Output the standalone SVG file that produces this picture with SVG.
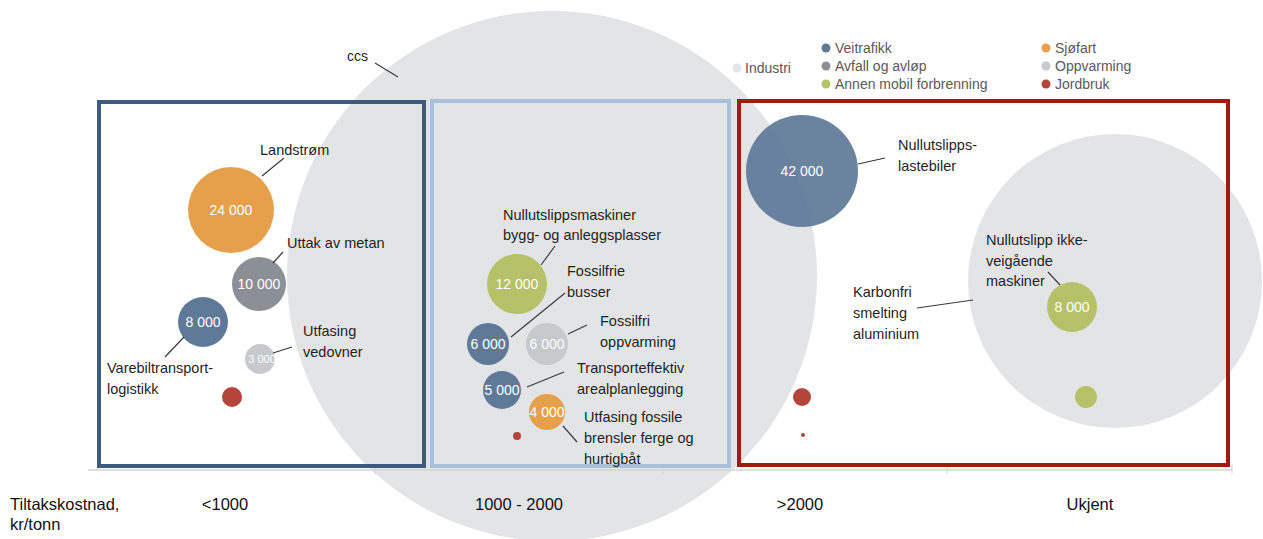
<svg xmlns="http://www.w3.org/2000/svg" width="1263" height="539" viewBox="0 0 1263 539">
<style>
text{font-family:"Liberation Sans",Arial,sans-serif}
.lbl{font-size:14.5px;fill:#1f1f1f}
.val{font-size:14px;fill:#ffffff;text-anchor:middle}
.leg{font-size:14px;fill:#595959}
.ax{font-size:16.5px;fill:#111111}
.axc{font-size:16.5px;fill:#111111;text-anchor:middle}
.ld{stroke:#3a3a3a;stroke-width:1.2;fill:none}
.ind{fill:#e3e4e6}
.vei{fill:#5f7a98}
.avf{fill:#8b9097}
.ann{fill:#b6c26a}
.sjo{fill:#e6a04c}
.opp{fill:#c6c9ce}
.jor{fill:#b4453b}
.box{fill:none;stroke-width:4}
</style>
<rect width="1263" height="539" fill="#ffffff"/>
<g id="ccs">
<circle class="ind" cx="552" cy="276" r="265"/>
<text x="347" y="61" class="lbl" style="font-size:14px">ccs</text>
</g>
<g id="industri-aluminium">
<circle class="ind" cx="1115" cy="281" r="147"/>
<text class="lbl" x="853" y="297">Karbonfri</text>
<text class="lbl" x="853" y="318">smelting</text>
<text class="lbl" x="853" y="339">aluminium</text>
</g>
<g id="axis">
<line x1="88" y1="470" x2="1232" y2="470" stroke="#d4d4d4" stroke-width="1.5"/>
<line x1="375" y1="464" x2="375" y2="474" stroke="#d4d4d4" stroke-width="1"/>
<line x1="663" y1="464" x2="663" y2="474" stroke="#d4d4d4" stroke-width="1"/>
<line x1="947" y1="464" x2="947" y2="474" stroke="#d4d4d4" stroke-width="1"/>
<line x1="1232" y1="464" x2="1232" y2="474" stroke="#d4d4d4" stroke-width="1"/>
<text class="ax" x="10" y="510">Tiltakskostnad,</text>
<text class="ax" x="10" y="530">kr/tonn</text>
<text class="axc" x="225" y="510">&lt;1000</text>
<text class="axc" x="519" y="510">1000 - 2000</text>
<text class="axc" x="800" y="510">&gt;2000</text>
<text class="axc" x="1090" y="510">Ukjent</text>
</g>
<g id="box-lt1000"><rect class="box" x="99" y="102" width="325" height="364" stroke="#3d5b7e"/></g>
<g id="box-1000-2000"><rect class="box" x="432" y="101" width="297" height="365" stroke="#a8c0da"/></g>
<g id="box-gt2000"><rect class="box" x="739" y="101" width="489" height="364" stroke="#9d1b10"/></g>
<g id="legend">
<circle class="ind" cx="737" cy="68" r="4.5"/><text class="leg" x="745" y="73">Industri</text>
<circle class="vei" cx="826" cy="48" r="4.5"/><text class="leg" x="835" y="53">Veitrafikk</text>
<circle class="avf" cx="826" cy="66" r="4.5"/><text class="leg" x="835" y="71">Avfall og avløp</text>
<circle class="ann" cx="826" cy="84" r="4.5"/><text class="leg" x="835" y="89">Annen mobil forbrenning</text>
<circle class="sjo" cx="1046" cy="48" r="4.5"/><text class="leg" x="1055" y="53">Sjøfart</text>
<circle class="opp" cx="1046" cy="66" r="4.5"/><text class="leg" x="1055" y="71">Oppvarming</text>
<circle class="jor" cx="1046" cy="84" r="4.5"/><text class="leg" x="1055" y="89">Jordbruk</text>
</g>
<g id="landstrom">
<circle class="sjo" cx="231" cy="210" r="43"/>
<text class="val" x="231" y="215">24 000</text>
<text class="lbl" x="260" y="155">Landstrøm</text>
</g>
<g id="uttak-metan">
<circle class="avf" cx="259" cy="284" r="27"/>
<text class="val" x="259" y="289">10 000</text>
<text class="lbl" x="287" y="248">Uttak av metan</text>
</g>
<g id="varebil">
<circle class="vei" cx="203" cy="322" r="25"/>
<text class="val" x="203" y="327">8 000</text>
<text class="lbl" x="107" y="373">Varebiltransport-</text>
<text class="lbl" x="107" y="394">logistikk</text>
</g>
<g id="vedovner">
<circle class="opp" cx="260" cy="359" r="15"/>
<text class="val" x="262" y="363" style="font-size:11px">3 000</text>
<text class="lbl" x="303" y="336">Utfasing</text>
<text class="lbl" x="303" y="357">vedovner</text>
</g>
<g id="jordbruk-1"><circle class="jor" cx="232" cy="397" r="10"/></g>
<g id="maskiner-bygg">
<circle class="ann" cx="517" cy="284" r="30"/>
<text class="val" x="517" y="289">12 000</text>
<text class="lbl" x="503" y="220">Nullutslippsmaskiner</text>
<text class="lbl" x="503" y="240">bygg- og anleggsplasser</text>
</g>
<g id="busser">
<circle class="vei" cx="488" cy="344" r="21"/>
<text class="val" x="488" y="349">6 000</text>
<text class="lbl" x="567" y="276">Fossilfrie</text>
<text class="lbl" x="567" y="297">busser</text>
</g>
<g id="oppvarming">
<circle class="opp" cx="547" cy="344" r="21"/>
<text class="val" x="547" y="349">6 000</text>
<text class="lbl" x="600" y="326">Fossilfri</text>
<text class="lbl" x="600" y="347">oppvarming</text>
</g>
<g id="arealplan">
<circle class="vei" cx="502" cy="390" r="19"/>
<text class="val" x="502" y="395">5 000</text>
<text class="lbl" x="577" y="373">Transporteffektiv</text>
<text class="lbl" x="577" y="394">arealplanlegging</text>
</g>
<g id="ferge">
<circle class="sjo" cx="547" cy="412" r="18"/>
<text class="val" x="547" y="417">4 000</text>
<text class="lbl" x="584" y="422">Utfasing fossile</text>
<text class="lbl" x="584" y="443">brensler ferge og</text>
<text class="lbl" x="584" y="464">hurtigbåt</text>
</g>
<g id="jordbruk-2"><circle class="jor" cx="517" cy="436" r="4"/></g>
<g id="lastebiler">
<circle class="vei" cx="802" cy="171" r="56" fill-opacity="0.93"/>
<text class="val" x="802" y="176">42 000</text>
<text class="lbl" x="898" y="150">Nullutslipps-</text>
<text class="lbl" x="898" y="171">lastebiler</text>
</g>
<g id="jordbruk-3"><circle class="jor" cx="802" cy="397" r="9"/></g>
<g id="jordbruk-4"><circle class="jor" cx="803" cy="435" r="2"/></g>
<g id="ikkeveigaende">
<circle class="ann" cx="1072" cy="307" r="25"/>
<text class="val" x="1072" y="312">8 000</text>
<text class="lbl" x="986" y="245">Nullutslipp ikke-</text>
<text class="lbl" x="986" y="266">veigående</text>
<text class="lbl" x="986" y="286">maskiner</text>
</g>
<g id="annen-mobil-small"><circle class="ann" cx="1086" cy="397" r="11"/></g>
<g id="connectors">
<line class="ld" x1="375" y1="63" x2="398" y2="77"/>
<line class="ld" x1="284" y1="158" x2="262" y2="176"/>
<line class="ld" x1="283" y1="252" x2="273" y2="263"/>
<line class="ld" x1="292" y1="347" x2="273" y2="353"/>
<line class="ld" x1="184" y1="337" x2="165" y2="357"/>
<line class="ld" x1="555" y1="246" x2="541" y2="265"/>
<line class="ld" x1="565" y1="293" x2="511" y2="337"/>
<line class="ld" x1="587" y1="325" x2="568" y2="334"/>
<line class="ld" x1="564" y1="372" x2="527" y2="387"/>
<line class="ld" x1="563" y1="426" x2="577" y2="442"/>
<line class="ld" x1="858" y1="164" x2="885" y2="158"/>
<line class="ld" x1="1048" y1="272" x2="1060" y2="285"/>
<line class="ld" x1="917" y1="308" x2="973" y2="300"/>
</g>
</svg>
